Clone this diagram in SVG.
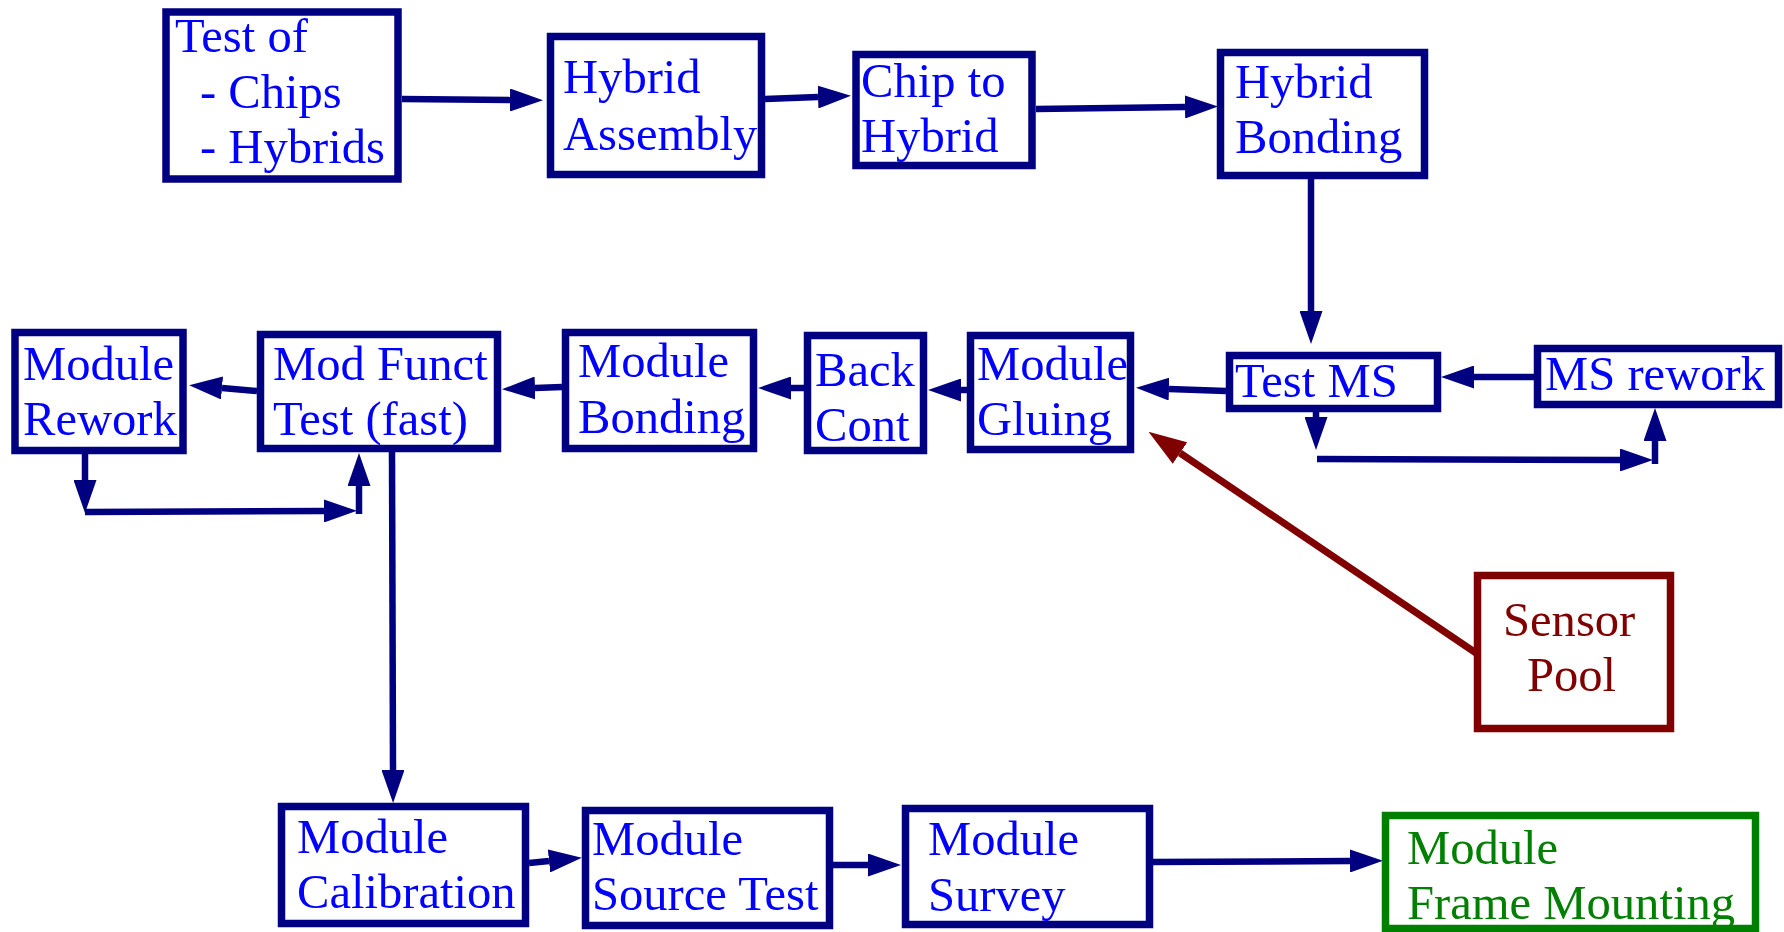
<svg xmlns="http://www.w3.org/2000/svg" width="1784" height="932" viewBox="0 0 1784 932">
  <style>
    .box { fill: #ffffff; stroke: #000080; stroke-width: 7.5; }
    .box-red { fill: #ffffff; stroke: #800000; stroke-width: 7.5; }
    .box-green { fill: #ffffff; stroke: #008000; stroke-width: 7.5; }
    .lbl { font-family: "Liberation Serif", "Times New Roman", serif; font-size: 48.6px; fill: #0000ff; }
    .lbl-red { fill: #800000; }
    .lbl-green { fill: #008000; }
    .wire { fill: none; stroke: #000080; stroke-width: 6.5; }
    .wire-red { fill: none; stroke: #800000; stroke-width: 7; }
  </style>
  <defs>
    <marker id="ah" viewBox="0 0 33 23" refX="0" refY="11.5" markerWidth="33" markerHeight="23" markerUnits="userSpaceOnUse" orient="auto">
      <path d="M0,0 L33,11.5 L0,23 Z" fill="#000080"/>
    </marker>
    <marker id="ah-red" viewBox="0 0 38 26" refX="0" refY="13" markerWidth="38" markerHeight="26" markerUnits="userSpaceOnUse" orient="auto">
      <path d="M0,0 L38,13 L0,26 Z" fill="#800000"/>
    </marker>
  </defs>
  <rect width="1784" height="932" fill="#ffffff"/>

  <!-- process flow connectors -->
  <g id="connectors">
    <path class="wire" d="M402,99 L510,100" marker-end="url(#ah)"/>
    <path class="wire" d="M765,99 L818,97" marker-end="url(#ah)"/>
    <path class="wire" d="M1036,109 L1185,107" marker-end="url(#ah)"/>
    <path class="wire" d="M1311,179 L1311,311" marker-end="url(#ah)"/>
    <path class="wire" d="M1534,377 L1474,377" marker-end="url(#ah)"/>
    <path class="wire" d="M1226,391 L1169,389" marker-end="url(#ah)"/>
    <path class="wire" d="M967,390 L961,390" marker-end="url(#ah)"/>
    <path class="wire" d="M804,388 L791,388" marker-end="url(#ah)"/>
    <path class="wire" d="M562,387 L535,388" marker-end="url(#ah)"/>
    <path class="wire" d="M257,391 L222,388" marker-end="url(#ah)"/>
    <!-- module rework loop -->
    <path class="wire" d="M85,454 L85,480" marker-end="url(#ah)"/>
    <path class="wire" d="M85,512 L324,511" marker-end="url(#ah)"/>
    <path class="wire" d="M359,514 L359,486" marker-end="url(#ah)"/>
    <!-- down to calibration and bottom row -->
    <path class="wire" d="M392,452 L393,770" marker-end="url(#ah)"/>
    <path class="wire" d="M529,863 L549,861" marker-end="url(#ah)"/>
    <path class="wire" d="M833,865 L868,865" marker-end="url(#ah)"/>
    <path class="wire" d="M1153,862 L1350,861" marker-end="url(#ah)"/>
    <!-- MS rework loop -->
    <path class="wire" d="M1316,412 L1316,417" marker-end="url(#ah)"/>
    <path class="wire" d="M1317,459 L1620,460" marker-end="url(#ah)"/>
    <path class="wire" d="M1655,464 L1655,441" marker-end="url(#ah)"/>
    <!-- sensor supply -->
    <path class="wire-red" d="M1476,653 L1180,453" marker-end="url(#ah-red)"/>
  </g>

  <g id="test-chips-hybrids">
    <rect class="box" x="166" y="12" width="232" height="167"/>
    <text class="lbl" x="175" y="52">Test of</text>
    <text class="lbl" x="200" y="108">- Chips</text>
    <text class="lbl" x="200" y="163">- Hybrids</text>
  </g>
  <g id="hybrid-assembly">
    <rect class="box" x="550.5" y="36.5" width="211" height="138"/>
    <text class="lbl" x="563" y="93">Hybrid</text>
    <text class="lbl" x="563" y="150">Assembly</text>
  </g>
  <g id="chip-to-hybrid">
    <rect class="box" x="856" y="54.5" width="176" height="111"/>
    <text class="lbl" x="861" y="97">Chip to</text>
    <text class="lbl" x="861" y="152">Hybrid</text>
  </g>
  <g id="hybrid-bonding">
    <rect class="box" x="1220.5" y="52.5" width="204" height="123"/>
    <text class="lbl" x="1235" y="98">Hybrid</text>
    <text class="lbl" x="1235" y="153">Bonding</text>
  </g>
  <g id="test-ms">
    <rect class="box" x="1229.5" y="355.5" width="208" height="53"/>
    <text class="lbl" x="1235" y="397">Test MS</text>
  </g>
  <g id="ms-rework">
    <rect class="box" x="1537.5" y="348.5" width="241" height="56"/>
    <text class="lbl" x="1545" y="390">MS rework</text>
  </g>
  <g id="module-gluing">
    <rect class="box" x="970.5" y="335.5" width="160" height="114"/>
    <text class="lbl" x="977" y="380">Module</text>
    <text class="lbl" x="977" y="435">Gluing</text>
  </g>
  <g id="back-cont">
    <rect class="box" x="807.5" y="335.5" width="116" height="115"/>
    <text class="lbl" x="815" y="386">Back</text>
    <text class="lbl" x="815" y="441">Cont</text>
  </g>
  <g id="module-bonding">
    <rect class="box" x="565.5" y="332.5" width="188" height="116"/>
    <text class="lbl" x="578" y="377">Module</text>
    <text class="lbl" x="578" y="433">Bonding</text>
  </g>
  <g id="mod-funct-test">
    <rect class="box" x="260.5" y="334.5" width="237" height="114"/>
    <text class="lbl" x="273" y="380">Mod Funct</text>
    <text class="lbl" x="273" y="435">Test (fast)</text>
  </g>
  <g id="module-rework">
    <rect class="box" x="15" y="332.5" width="168" height="118"/>
    <text class="lbl" x="23" y="380">Module</text>
    <text class="lbl" x="23" y="435">Rework</text>
  </g>
  <g id="sensor-pool">
    <rect class="box-red" x="1477.5" y="575.5" width="193" height="153"/>
    <text class="lbl lbl-red" x="1503" y="636">Sensor</text>
    <text class="lbl lbl-red" x="1527" y="691">Pool</text>
  </g>
  <g id="module-calibration">
    <rect class="box" x="281.5" y="806.5" width="244" height="117"/>
    <text class="lbl" x="297" y="853">Module</text>
    <text class="lbl" x="297" y="908">Calibration</text>
  </g>
  <g id="module-source-test">
    <rect class="box" x="585.5" y="810.5" width="244" height="115"/>
    <text class="lbl" x="592" y="855">Module</text>
    <text class="lbl" x="592" y="910">Source Test</text>
  </g>
  <g id="module-survey">
    <rect class="box" x="905.5" y="808.5" width="244" height="116"/>
    <text class="lbl" x="928" y="855">Module</text>
    <text class="lbl" x="928" y="911">Survey</text>
  </g>
  <g id="module-frame-mounting">
    <rect class="box-green" x="1385.5" y="815.5" width="370" height="113"/>
    <text class="lbl lbl-green" x="1407" y="864">Module</text>
    <text class="lbl lbl-green" x="1407" y="919">Frame Mounting</text>
  </g>
</svg>
